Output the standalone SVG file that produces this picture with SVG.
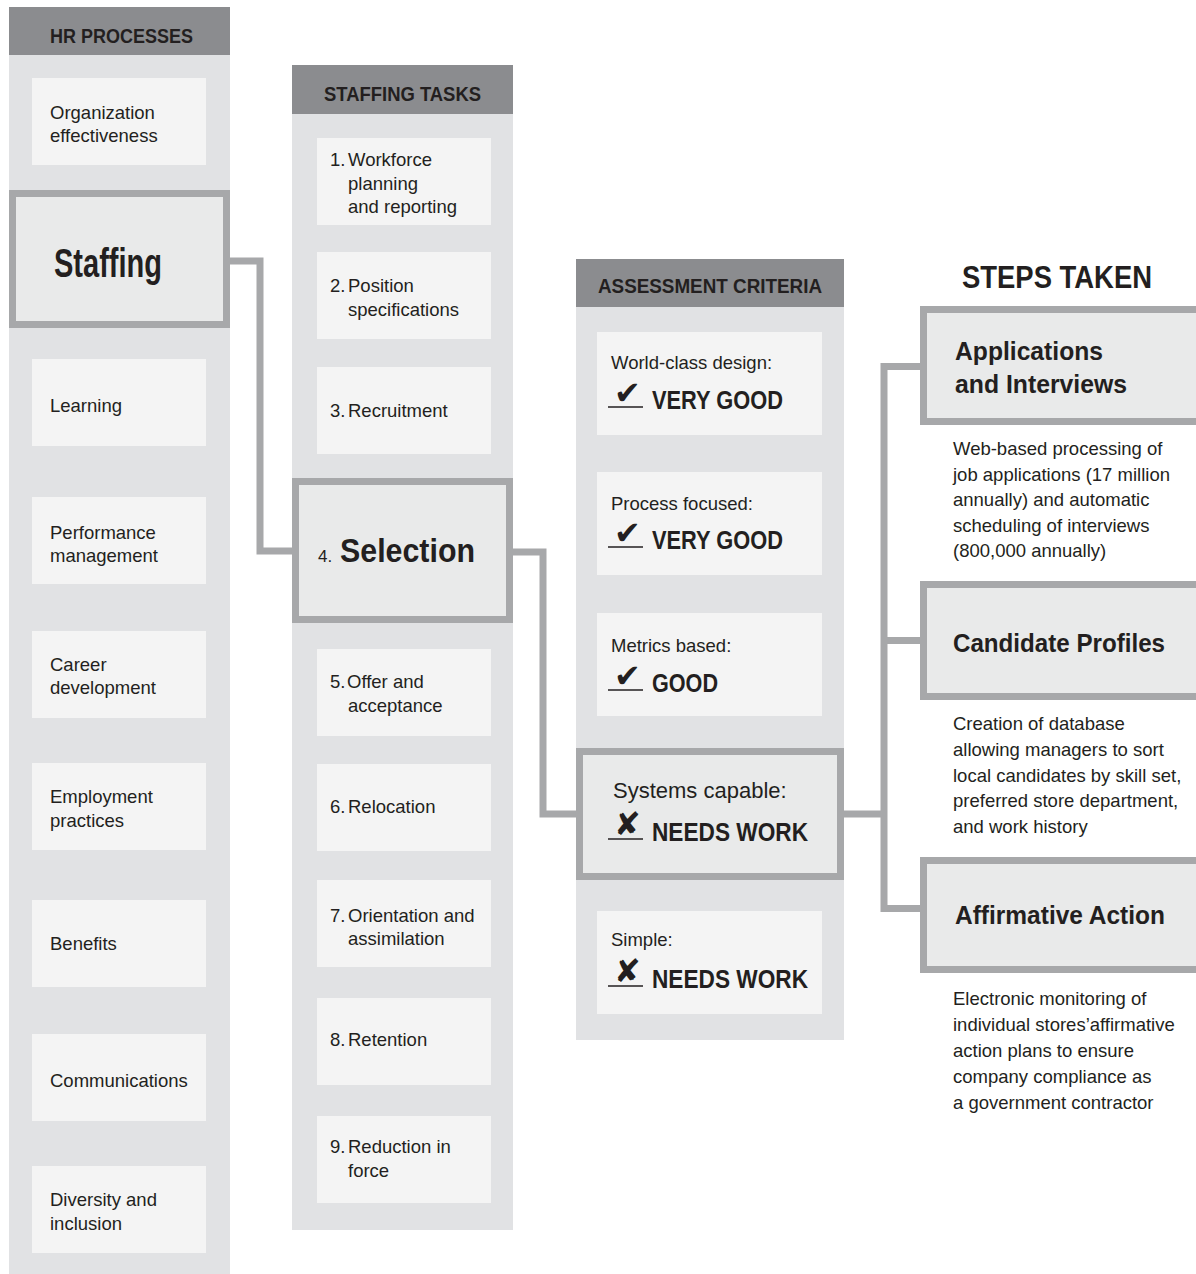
<svg xmlns="http://www.w3.org/2000/svg" width="1196" height="1274" viewBox="0 0 1196 1274">
<style>
.panel{fill:#e1e2e4}
.head{fill:#8b8c8f}
.item{fill:#f4f4f4}
.hl{fill:#e9eaea;stroke:#a7a8aa;stroke-width:7}
.conn{fill:none;stroke:#a7a8aa;stroke-width:7}
text{font-family:"Liberation Sans",Arial,sans-serif;fill:#231f20}
.t{font-size:18.5px}
.hd{font-size:21px;font-weight:bold}
.b{font-weight:bold}
.mark{font-family:"DejaVu Sans",sans-serif;font-size:32px}
.ul{stroke:#231f20;stroke-width:1.5}
</style>
<rect width="1196" height="1274" fill="#ffffff"/>

<g id="col-hr">
<rect class="panel" x="9" y="7" width="221" height="1267"/>
<rect class="head" x="9" y="7" width="221" height="48"/>
<text class="hd" x="50" y="43" textLength="143" lengthAdjust="spacingAndGlyphs">HR PROCESSES</text>
</g>
<g id="n-org"><rect class="item" x="32" y="78" width="174" height="87"/><text class="t" x="50" y="119">Organization</text><text class="t" x="50" y="142">effectiveness</text></g>
<g id="n-staffing"><rect class="hl" x="12.5" y="193.5" width="214" height="131"/><text class="b" x="54" y="277" font-size="41" textLength="108" lengthAdjust="spacingAndGlyphs">Staffing</text></g>
<g id="n-learning"><rect class="item" x="32" y="359" width="174" height="87"/><text class="t" x="50" y="412">Learning</text></g>
<g id="n-perf"><rect class="item" x="32" y="497" width="174" height="87"/><text class="t" x="50" y="539">Performance</text><text class="t" x="50" y="562">management</text></g>
<g id="n-career"><rect class="item" x="32" y="631" width="174" height="87"/><text class="t" x="50" y="671">Career</text><text class="t" x="50" y="694">development</text></g>
<g id="n-employ"><rect class="item" x="32" y="763" width="174" height="87"/><text class="t" x="50" y="803">Employment</text><text class="t" x="50" y="827">practices</text></g>
<g id="n-benefits"><rect class="item" x="32" y="900" width="174" height="87"/><text class="t" x="50" y="950">Benefits</text></g>
<g id="n-comm"><rect class="item" x="32" y="1034" width="174" height="87"/><text class="t" x="50" y="1087">Communications</text></g>
<g id="n-div"><rect class="item" x="32" y="1166" width="174" height="87"/><text class="t" x="50" y="1206">Diversity and</text><text class="t" x="50" y="1230">inclusion</text></g>

<g id="col-tasks">
<rect class="panel" x="292" y="65" width="221" height="1165"/>
<rect class="head" x="292" y="65" width="221" height="49"/>
<text class="hd" x="324" y="100.5" textLength="157" lengthAdjust="spacingAndGlyphs">STAFFING TASKS</text>
</g>
<g id="n-t1"><rect class="item" x="317" y="138" width="174" height="87"/><text class="t" x="330" y="166">1.<tspan x="348">Workforce</tspan></text><text class="t" x="348" y="190">planning</text><text class="t" x="348" y="213">and reporting</text></g>
<g id="n-t2"><rect class="item" x="317" y="252" width="174" height="87"/><text class="t" x="330" y="292">2.<tspan x="348">Position</tspan></text><text class="t" x="348" y="316">specifications</text></g>
<g id="n-t3"><rect class="item" x="317" y="367" width="174" height="87"/><text class="t" x="330" y="417">3.<tspan x="348">Recruitment</tspan></text></g>
<g id="n-t4"><rect class="hl" x="295.5" y="481.5" width="214" height="138"/><text x="318" y="562" font-size="17">4.</text><text class="b" x="340" y="562" font-size="33" textLength="135" lengthAdjust="spacingAndGlyphs">Selection</text></g>
<g id="n-t5"><rect class="item" x="317" y="649" width="174" height="87"/><text class="t" x="330" y="688">5.<tspan x="347">Offer and</tspan></text><text class="t" x="348" y="712">acceptance</text></g>
<g id="n-t6"><rect class="item" x="317" y="764" width="174" height="87"/><text class="t" x="330" y="813">6.<tspan x="348">Relocation</tspan></text></g>
<g id="n-t7"><rect class="item" x="317" y="880" width="174" height="87"/><text class="t" x="330" y="922">7.<tspan x="348">Orientation and</tspan></text><text class="t" x="348" y="945">assimilation</text></g>
<g id="n-t8"><rect class="item" x="317" y="998" width="174" height="87"/><text class="t" x="330" y="1046">8.<tspan x="348">Retention</tspan></text></g>
<g id="n-t9"><rect class="item" x="317" y="1116" width="174" height="87"/><text class="t" x="330" y="1153">9.<tspan x="348">Reduction in</tspan></text><text class="t" x="348" y="1177">force</text></g>

<g id="col-assess">
<rect class="panel" x="576" y="259" width="268" height="781"/>
<rect class="head" x="576" y="259" width="268" height="48"/>
<text class="hd" x="598" y="292.5" textLength="224" lengthAdjust="spacingAndGlyphs">ASSESSMENT CRITERIA</text>
</g>
<g id="n-a1"><rect class="item" x="597" y="332" width="225" height="103"/><text class="t" x="611" y="369">World-class design:</text><text class="mark" x="614" y="404">✔</text><line class="ul" x1="608" y1="407" x2="643" y2="407"/><text class="b" x="652" y="409" font-size="26.5" textLength="131" lengthAdjust="spacingAndGlyphs">VERY GOOD</text></g>
<g id="n-a2"><rect class="item" x="597" y="472" width="225" height="103"/><text class="t" x="611" y="510">Process focused:</text><text class="mark" x="614" y="544">✔</text><line class="ul" x1="608" y1="547" x2="643" y2="547"/><text class="b" x="652" y="549" font-size="26.5" textLength="131" lengthAdjust="spacingAndGlyphs">VERY GOOD</text></g>
<g id="n-a3"><rect class="item" x="597" y="613" width="225" height="103"/><text class="t" x="611" y="652">Metrics based:</text><text class="mark" x="614" y="687">✔</text><line class="ul" x1="608" y1="690" x2="643" y2="690"/><text class="b" x="652" y="692" font-size="26.5" textLength="66" lengthAdjust="spacingAndGlyphs">GOOD</text></g>
<g id="n-a4"><rect class="hl" x="579.5" y="751.5" width="261" height="125"/><text x="613" y="798" font-size="22">Systems capable:</text><text class="mark b" x="614" y="835">✘</text><line class="ul" x1="608" y1="839" x2="643" y2="839"/><text class="b" x="652" y="841" font-size="26.5" textLength="156" lengthAdjust="spacingAndGlyphs">NEEDS WORK</text></g>
<g id="n-a5"><rect class="item" x="597" y="911" width="225" height="103"/><text class="t" x="611" y="946">Simple:</text><text class="mark b" x="614" y="982">✘</text><line class="ul" x1="608" y1="986" x2="643" y2="986"/><text class="b" x="652" y="988" font-size="26.5" textLength="156" lengthAdjust="spacingAndGlyphs">NEEDS WORK</text></g>

<g id="col-steps">
<text class="b" x="962" y="288" font-size="32" textLength="190" lengthAdjust="spacingAndGlyphs">STEPS TAKEN</text>
</g>
<g id="n-s1"><rect class="hl" x="923.5" y="309.5" width="280" height="112"/><text class="b" x="955" y="360" font-size="26.5" textLength="148" lengthAdjust="spacingAndGlyphs">Applications</text><text class="b" x="955" y="393" font-size="26.5" textLength="172" lengthAdjust="spacingAndGlyphs">and Interviews</text>
<text class="t" x="953" y="455">Web-based processing of</text><text class="t" x="953" y="481">job applications (17 million</text><text class="t" x="953" y="506">annually) and automatic</text><text class="t" x="953" y="532">scheduling of interviews</text><text class="t" x="953" y="557">(800,000 annually)</text></g>
<g id="n-s2"><rect class="hl" x="923.5" y="584.5" width="280" height="112"/><text class="b" x="953" y="652" font-size="26.5" textLength="212" lengthAdjust="spacingAndGlyphs">Candidate Profiles</text>
<text class="t" x="953" y="730">Creation of database</text><text class="t" x="953" y="756">allowing managers to sort</text><text class="t" x="953" y="782">local candidates by skill set,</text><text class="t" x="953" y="807">preferred store department,</text><text class="t" x="953" y="833">and work history</text></g>
<g id="n-s3"><rect class="hl" x="923.5" y="860.5" width="280" height="109"/><text class="b" x="955" y="924" font-size="26.5" textLength="210" lengthAdjust="spacingAndGlyphs">Affirmative Action</text>
<text class="t" x="953" y="1005">Electronic monitoring of</text><text class="t" x="953" y="1031">individual stores’affirmative</text><text class="t" x="953" y="1057">action plans to ensure</text><text class="t" x="953" y="1083">company compliance as</text><text class="t" x="953" y="1109">a government contractor</text></g>

<g id="connectors">
<path class="conn" d="M230,261 H260 V551 H292"/>
<path class="conn" d="M513,552 H543 V814 H576"/>
<path class="conn" d="M844,814 H884"/>
<path class="conn" d="M920,366.5 H884 V908.5 H920"/>
<path class="conn" d="M884,640.5 H920"/>
</g>
</svg>
